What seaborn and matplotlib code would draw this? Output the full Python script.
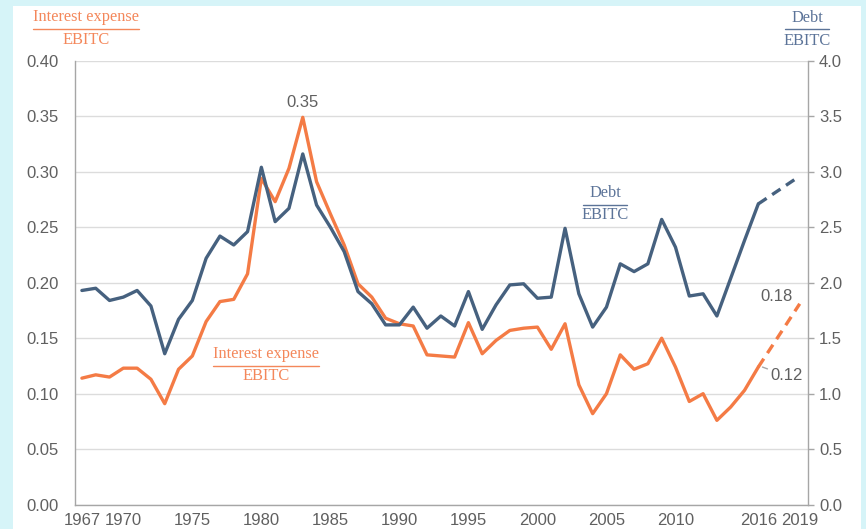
import numpy as np
import pandas as pd
import matplotlib.pyplot as plt
import seaborn as sns
from matplotlib.patches import Rectangle
from matplotlib.lines import Line2D

# data
years = list(range(1967, 2017))
debt_ebitc = [1.93, 1.95, 1.84, 1.87, 1.93, 1.79, 1.36, 1.67, 1.84, 2.22,
              2.42, 2.34, 2.46, 3.04, 2.55, 2.67, 3.16, 2.70, 2.50, 2.28,
              1.92, 1.81, 1.62, 1.62, 1.78, 1.59, 1.70, 1.61, 1.92, 1.58,
              1.80, 1.98, 1.99, 1.86, 1.87, 2.49, 1.90, 1.60, 1.78, 2.17,
              2.10, 2.17, 2.57, 2.32, 1.88, 1.90, 1.70, 2.04, 2.38, 2.71]
interest_ebitc = [0.114, 0.117, 0.115, 0.123, 0.123, 0.113, 0.091, 0.122, 0.134, 0.165,
                  0.183, 0.185, 0.208, 0.294, 0.273, 0.303, 0.349, 0.291, 0.262, 0.234,
                  0.199, 0.187, 0.168, 0.163, 0.161, 0.135, 0.134, 0.133, 0.164, 0.136,
                  0.148, 0.157, 0.159, 0.160, 0.140, 0.163, 0.108, 0.082, 0.100, 0.135,
                  0.122, 0.127, 0.150, 0.124, 0.093, 0.100, 0.076, 0.088, 0.103, 0.124]
proj_years = [2016, 2019]
debt_proj = [2.71, 2.96]
interest_proj = [0.124, 0.181]
xtick_years = [1967, 1970, 1975, 1980, 1985, 1990, 1995, 2000, 2005, 2010, 2016, 2019]

df = pd.DataFrame({'year': years, 'debt': debt_ebitc, 'interest': interest_ebitc})
proj = pd.DataFrame({'year': proj_years, 'debt': debt_proj, 'interest': interest_proj})

sns.set_style('white')
plt.rcParams['font.family'] = ['Liberation Sans Narrow', 'Liberation Sans', 'DejaVu Sans']

BLUE = '#46617f'
ORANGE = '#f47b45'
GRAY = '#606060'
SERIF = ['Liberation Serif', 'DejaVu Serif']

fig = plt.figure(figsize=(8.66, 5.29), dpi=100)
fig.patch.set_facecolor('#d6f4f8')
fig.patches.append(Rectangle((13 / 866, 0), (861 - 13) / 866, (529 - 6) / 529,
                             transform=fig.transFigure, facecolor='white',
                             edgecolor='none', zorder=-10))

ax = fig.add_axes([75 / 866, (529 - 504.7) / 529, (808 - 75) / 866, (504.7 - 60.7) / 529])
ax.set_facecolor('none')
ax2 = ax.twinx()

sns.lineplot(data=df, x='year', y='interest', ax=ax, color=ORANGE, lw=2.4, zorder=3)
sns.lineplot(data=proj, x='year', y='interest', ax=ax, color=ORANGE, lw=2.4,
             linestyle=(0, (3, 2)), zorder=3)
sns.lineplot(data=df, x='year', y='debt', ax=ax2, color=BLUE, lw=2.4, zorder=3)
sns.lineplot(data=proj, x='year', y='debt', ax=ax2, color=BLUE, lw=2.4,
             linestyle=(0, (3, 2)), zorder=3)

ax.set_xlim(1966.5, 2019.6)
ax.set_ylim(0, 0.40)
ax2.set_ylim(0, 4.0)
ax.set_yticks(np.arange(0, 0.401, 0.05))
ax.set_yticklabels([f'{v:.2f}' for v in np.arange(0, 0.401, 0.05)])
ax2.set_yticks(np.arange(0, 4.01, 0.5))
ax2.set_yticklabels([f'{v:.1f}' for v in np.arange(0, 4.01, 0.5)])
ax.set_xticks(xtick_years)
ax.set_xticklabels([str(y) for y in xtick_years])
ax.set_xlabel('')
ax.set_ylabel('')
ax2.set_ylabel('')

ax.grid(axis='y', color='#dcdcdc', lw=1)
ax.set_axisbelow(True)
for a in (ax, ax2):
    for s in a.spines.values():
        s.set_color('#a6a6a6')
        s.set_linewidth(1)
    a.spines['top'].set_visible(False)
ax.spines['right'].set_visible(False)
ax2.spines['left'].set_visible(False)
ax2.spines['bottom'].set_visible(False)

ax.tick_params(axis='y', length=0, pad=12, labelsize=12, labelcolor=GRAY)
ax.tick_params(axis='x', length=0, pad=6, labelsize=12, labelcolor=GRAY)
ax2.tick_params(axis='y', length=4, width=1, color='#a6a6a6', pad=4,
                labelsize=12, labelcolor=GRAY)


def fraction(x, y_top, y_line, y_bot, half, top, color):
    fig.text(x / 866, 1 - y_top / 529, top, color=color, family=SERIF,
             fontsize=11.8, ha='center', va='center')
    fig.text(x / 866, 1 - y_bot / 529, 'EBITC', color=color, family=SERIF,
             fontsize=11.8, ha='center', va='center')
    fig.lines.append(Line2D([(x - half) / 866, (x + half) / 866],
                            [1 - y_line / 529, 1 - y_line / 529],
                            transform=fig.transFigure, color=color, lw=1))


fraction(86, 17, 29, 40, 53, 'Interest expense', '#f4875a')
fraction(807, 18, 29, 41, 22, 'Debt', '#5b7398')
fraction(605, 193, 205, 215, 22, 'Debt', '#5b7398')
fraction(266, 354, 366, 376, 53, 'Interest expense', '#f4875a')

ax.text(1983, 0.356, '0.35', color=GRAY, fontsize=12, ha='center', va='bottom')
ax.text(2017.3, 0.188, '0.18', color=GRAY, fontsize=12, ha='center', va='center')
ax.annotate('0.12', xy=(2016.3, 0.124), xytext=(2016.9, 0.116), color=GRAY,
            fontsize=12, va='center', ha='left',
            arrowprops=dict(arrowstyle='-', color='#a6a6a6', lw=1,
                            shrinkA=0, shrinkB=0))

fig.savefig('out.png', dpi=100, facecolor=fig.get_facecolor())
